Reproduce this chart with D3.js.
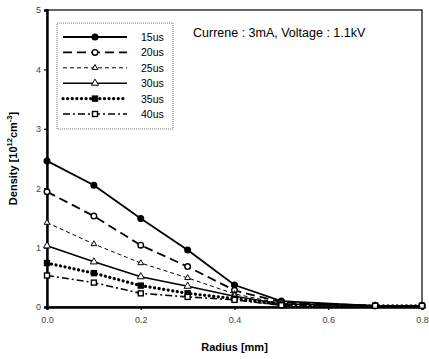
<!DOCTYPE html>
<html>
<head>
<meta charset="utf-8">
<script src="https://cdn.jsdelivr.net/npm/d3@7"></script>
<style>
  body { margin: 0; background: #fff; }
  text { font-family: Arial, "Liberation Sans", sans-serif; }
</style>
</head>
<body>
<script>
// radius positions [mm]
let radius = [0, 0.1, 0.2, 0.3, 0.4, 0.5, 0.7, 0.8];

// density values [10^12 cm^-3]
let d15 = [2.46, 2.05, 1.49, 0.96, 0.37, 0.10, 0.02, 0.02];
let d20 = [1.94, 1.53, 1.04, 0.68, 0.28, 0.08, 0.02, 0.02];
let d25 = [1.42, 1.06, 0.74, 0.49, 0.22, 0.06, 0.02, 0.02];
let d30 = [1.03, 0.76, 0.51, 0.35, 0.18, 0.05, 0.02, 0.02];
let d35 = [0.74, 0.57, 0.36, 0.23, 0.14, 0.04, 0.02, 0.02];
let d40 = [0.53, 0.41, 0.23, 0.17, 0.12, 0.03, 0.02, 0.02];

let seriesNames = ["15us", "20us", "25us", "30us", "35us", "40us"];
let xTicks = [0, 0.2, 0.4, 0.6, 0.8];
let yTicks = [0, 1, 2, 3, 4, 5];

let styles = [
    { values: d15, dash: null, width: 1.8, marker: "circle", fill: "#000", size: 2.8 },
    { values: d20, dash: "9,5", width: 1.8, marker: "circle", fill: "#fff", size: 2.8 },
    { values: d25, dash: "4,3", width: 1, marker: "triangle", fill: "#fff", size: 14 },
    { values: d30, dash: null, width: 1.6, marker: "triangle", fill: "#fff", size: 22 },
    { values: d35, dash: "0.1,4.5", width: 3.2, marker: "square", fill: "#000", size: 5, cap: "round" },
    { values: d40, dash: "7,3,2,3", width: 1.6, marker: "square", fill: "#fff", size: 5 }
];

let W = 429, H = 359;
let margin = { top: 10, right: 7, bottom: 52, left: 47 };

let x = d3.scaleLinear().domain([0, 0.8]).range([margin.left, W - margin.right]);
let y = d3.scaleLinear().domain([0, 5]).range([H - margin.bottom, margin.top]);

let svg = d3.select("body").append("svg")
    .attr("width", W)
    .attr("height", H);

// frame
svg.append("rect")
    .attr("x", x(0)).attr("y", y(5))
    .attr("width", x(0.8) - x(0)).attr("height", y(0) - y(5))
    .attr("fill", "none").attr("stroke", "#000").attr("stroke-width", 1.2);

// axes
let xAxis = svg.append("g")
    .attr("transform", `translate(0,${y(0)})`)
    .call(d3.axisBottom(x).tickValues(xTicks).tickSize(3).tickFormat(d3.format(".1f")));
let yAxis = svg.append("g")
    .attr("transform", `translate(${x(0)},0)`)
    .call(d3.axisLeft(y).tickValues(yTicks).tickSize(3).tickFormat(d3.format("d")));

[xAxis, yAxis].forEach(a => {
    a.select(".domain").attr("stroke-width", 2.4);
    a.selectAll(".tick line").attr("stroke-width", 1.2);
    a.selectAll(".tick text").attr("font-size", 9).attr("fill", "#444");
});
xAxis.selectAll(".tick text").attr("dy", "1.1em");

// lines
let line = (vals) => d3.line()
    .x((_, i) => x(radius[i]))
    .y(d => y(d))(vals);

function drawMarker(g, s, cx, cy) {
    if (s.marker === "circle") {
        g.append("circle").attr("cx", cx).attr("cy", cy).attr("r", s.size)
            .attr("fill", s.fill).attr("stroke", "#000").attr("stroke-width", 1.4);
    } else if (s.marker === "triangle") {
        g.append("path")
            .attr("d", d3.symbol(d3.symbolTriangle, s.size)())
            .attr("transform", `translate(${cx},${cy})`)
            .attr("fill", s.fill).attr("stroke", "#000").attr("stroke-width", 1);
    } else {
        g.append("rect").attr("x", cx - s.size / 2).attr("y", cy - s.size / 2)
            .attr("width", s.size).attr("height", s.size)
            .attr("fill", s.fill).attr("stroke", "#000").attr("stroke-width", 1.4);
    }
}

let plot = svg.append("g");
styles.forEach(s => {
    plot.append("path")
        .attr("d", line(s.values))
        .attr("fill", "none")
        .attr("stroke", "#000")
        .attr("stroke-width", s.width)
        .attr("stroke-dasharray", s.dash)
        .attr("stroke-linecap", s.cap || "butt");
});
styles.forEach(s => {
    s.values.forEach((v, i) => drawMarker(plot, s, x(radius[i]), y(v)));
});

// legend
let lg = svg.append("g");
lg.append("rect")
    .attr("x", 57).attr("y", 23).attr("width", 116).attr("height", 106)
    .attr("fill", "#fff").attr("stroke", "#777").attr("stroke-width", 1)
    .attr("stroke-dasharray", "1,1");
seriesNames.forEach((name, i) => {
    let s = styles[i];
    let ly = 37 + i * 15.4;
    lg.append("line")
        .attr("x1", 63).attr("x2", 127).attr("y1", ly).attr("y2", ly)
        .attr("stroke", "#000").attr("stroke-width", s.width)
        .attr("stroke-dasharray", s.dash)
        .attr("stroke-linecap", s.cap || "butt");
    drawMarker(lg, s, 95, ly);
    lg.append("text")
        .attr("x", 141).attr("y", ly + 4)
        .attr("font-size", 10.5)
        .text(name);
});

// annotation
svg.append("text")
    .attr("x", 193).attr("y", 37)
    .attr("font-size", 12.5)
    .text("Currene : 3mA, Voltage : 1.1kV");

// axis titles
svg.append("text")
    .attr("x", (x(0) + x(0.8)) / 2).attr("y", 351)
    .attr("text-anchor", "middle")
    .attr("font-size", 11).attr("font-weight", "bold")
    .text("Radius [mm]");

let yt = svg.append("text")
    .attr("transform", `translate(17,${(y(0) + y(5)) / 2}) rotate(-90)`)
    .attr("text-anchor", "middle")
    .attr("font-size", 11).attr("font-weight", "bold");
yt.append("tspan").text("Density [10");
yt.append("tspan").attr("font-size", 7.5).attr("dy", -5).text("12");
yt.append("tspan").attr("dy", 5).text("cm");
yt.append("tspan").attr("font-size", 7.5).attr("dy", -5).text("-3");
yt.append("tspan").attr("dy", 5).text("]");
</script>
</body>
</html>
